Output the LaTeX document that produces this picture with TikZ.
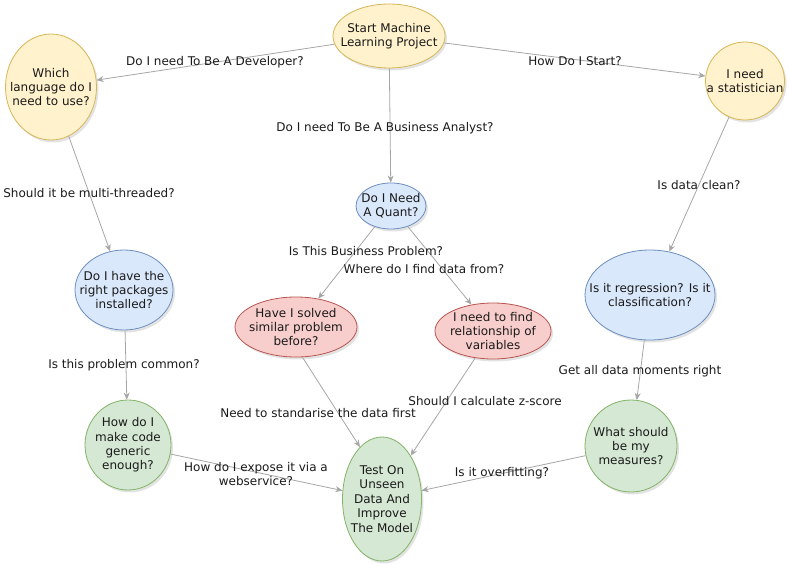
\documentclass[tikz,border=0pt]{standalone}
\usepackage{fontspec}
\setmainfont{DejaVu Sans}
\usetikzlibrary{shapes.geometric,shadows,arrows.meta}
\definecolor{yfill}{HTML}{FFF2CC}\definecolor{ydraw}{HTML}{D6B656}
\definecolor{bfill}{HTML}{DAE8FC}\definecolor{bdraw}{HTML}{6C8EBF}
\definecolor{rfill}{HTML}{F8CECC}\definecolor{rdraw}{HTML}{B85450}
\definecolor{gfill}{HTML}{D5E8D4}\definecolor{gdraw}{HTML}{82B366}
\definecolor{edgecol}{HTML}{A6A6A6}
\definecolor{txtcol}{HTML}{1A1A1A}
\begin{document}
\begin{tikzpicture}[x=1pt,y=-1pt,
  font=\fontsize{12}{14.4}\selectfont, text=txtcol,
  bub/.style={ellipse, inner sep=0pt, line width=0.8pt,
    drop shadow={opacity=0.22, shadow xshift=2pt, shadow yshift=-2.5pt}},
  sz/.style 2 args={minimum width=#1pt, minimum height=#2pt},
  yel/.style={bub, fill=yfill, draw=ydraw},
  blu/.style={bub, fill=bfill, draw=bdraw},
  red/.style={bub, fill=rfill, draw=rdraw},
  grn/.style={bub, fill=gfill, draw=gdraw},
  txt/.style={label={[align=center, inner sep=0pt]center:#1}},
  edge/.style={draw=edgecol, line width=0.8pt, -{Stealth[length=7pt,width=6pt]}},
  lbl/.style={inner sep=0pt, align=center}]
\useasboundingbox (0,0) rectangle (789,564);

\node[yel, sz={112}{64}, txt={Start Machine\\Learning Project}] (start) at (389,36) {};
\node[yel, sz={91}{106}, txt={Which\\language do I\\need to use?}] (lang) at (51,87) {};
\node[yel, sz={79}{78}, txt={I need\\a statistician}] (stat) at (745,81) {};
\node[blu, sz={70}{46}, txt={Do I Need\\A Quant?}] (quant) at (391,206) {};
\node[red, sz={122}{60}, txt={Have I solved\\similar problem\\before?}] (solved) at (296,327) {};
\node[red, sz={116}{56}, txt={I need to find\\relationship of\\variables}] (rel) at (493,331) {};
\node[grn, sz={79}{124}, txt={Test On\\Unseen\\Data And\\Improve\\The Model}] (test) at (382,499) {};
\node[blu, sz={130}{90}, txt={Is it regression? Is it\\classification?}] (regr) at (650,295) {};
\node[blu, sz={98}{80}, txt={Do I have the\\right packages\\installed?}] (pack) at (124,290) {};
\node[grn, sz={86}{90}, txt={How do I\\make code\\generic\\enough?}] (gen) at (128,445) {};
\node[grn, sz={92}{92}, txt={What should\\be my\\measures?}] (meas) at (631,446) {};

\draw[edge] (start) -- (lang);
\draw[edge] (start) -- (stat);
\draw[edge] (start) -- (quant);
\draw[edge] (lang) -- (pack);
\draw[edge] (stat) -- (regr);
\draw[edge] (quant) -- (solved);
\draw[edge] (quant) -- (rel);
\draw[edge] (pack) -- (gen);
\draw[edge] (regr) -- (meas);
\draw[edge] (solved.-78) -- (test.113);
\draw[edge] (rel) -- (test);
\draw[edge] (gen) -- (test);
\draw[edge] (meas) -- (test);

\node[lbl] (l1) at (215,62) {Do I need To Be A Developer?};
\node[lbl] (l2) at (575,61) {How Do I Start?};
\node[lbl] (l3) at (385,128) {Do I need To Be A Business Analyst?};
\node[lbl] (l4) at (89,193) {Should it be multi-threaded?};
\node[lbl] (l5) at (699,185) {Is data clean?};
\node[lbl] (l6) at (366,251) {Is This Business Problem?};
\node[lbl] (l7) at (424,269) {Where do I find data from?};
\node[lbl] (l8) at (124,365) {Is this problem common?};
\node[lbl] (l9) at (640,371) {Get all data moments right};
\node[lbl] (l10) at (318,413) {Need to standarise the data first};
\node[lbl] (l11) at (485,401) {Should I calculate z-score};
\node[lbl] (l12) at (256,474) {How do I expose it via a\\webservice?};
\node[lbl] (l13) at (502,473) {Is it overfitting?};
\end{tikzpicture}
\end{document}
